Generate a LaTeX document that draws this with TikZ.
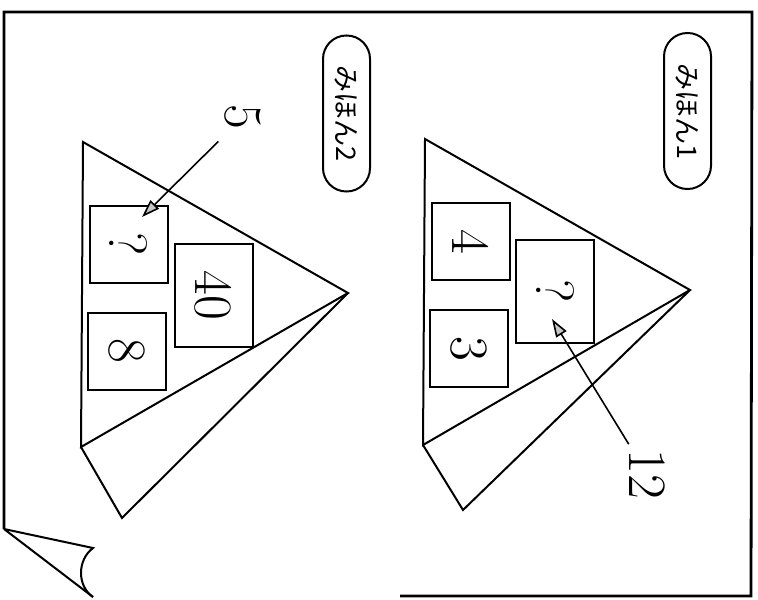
\documentclass[tikz,border=0pt]{standalone}
\usepackage{fontspec}
\newfontfamily\jpfont{Noto Sans CJK JP}
\usetikzlibrary{arrows.meta}

\begin{document}
\begin{tikzpicture}[x=0.5pt,y=-0.5pt,line width=1pt,
    cell/.style={draw,rotate=-90,minimum width=38.5pt,minimum height=39pt,inner sep=0pt,font=\fontsize{27}{30}\selectfont},
    widecell/.style={cell,minimum width=51.5pt},
    num/.style={rotate=-90,inner sep=2pt,font=\fontsize{27}{30}\selectfont},
    tag/.style={draw,rotate=-90,rounded corners=11.7pt,minimum width=78pt,minimum height=23.5pt,inner sep=0pt,font=\jpfont\fontsize{13.5}{15}\selectfont},
    hint/.style={-{Triangle[length=9pt,width=6pt,fill=gray!45]},line width=0.8pt}]
  \useasboundingbox (0,0) rectangle (758,599);
  % sheet with the turned-up corner
  \draw[line width=1.4pt] (400,596) -- (751,596) -- (752,12) -- (4,12) -- (4,529);
  \draw (4,529) -- (93,548) .. controls (77,560) and (77,586) .. (93,597);
  \draw (4,529) -- (93,597);
  % sample 1
  \node[tag] (s1) at (687.5,111) {みほん1};
  \coordinate (t1) at (425,139);
  \coordinate (a1) at (690,290);
  \coordinate (b1) at (423,445);
  \coordinate (l1) at (463,510);
  \draw (t1) -- (a1) -- (b1) -- cycle;
  \draw (b1) -- (l1) -- (a1);
  \node[cell] (p1a) at (471,241.5) {4};
  \node[cell] (p1b) at (468.5,348.5) {3};
  \node[widecell] (p1q) at (555,291.5) {?};
  \node[num] (n12) at (647,474) {12};
  \coordinate (h1) at (552,319);
  \draw[hint] (n12) -- (h1);
  % sample 2
  \node[tag] (s2) at (346.5,113.5) {みほん2};
  \coordinate (t2) at (83,142);
  \coordinate (a2) at (348,293);
  \coordinate (b2) at (81,447);
  \coordinate (l2) at (122,518);
  \draw (t2) -- (a2) -- (b2) -- cycle;
  \draw (b2) -- (l2) -- (a2);
  \node[cell] (p2q) at (128.5,244.5) {?};
  \node[cell] (p2b) at (126.5,351) {8};
  \node[widecell] (p2c) at (213.5,295) {40};
  \node[num] (n5) at (243,117) {5};
  \coordinate (h2) at (142,217);
  \draw[hint,shorten <=5pt] (n5) -- (h2);
\end{tikzpicture}
\end{document}
